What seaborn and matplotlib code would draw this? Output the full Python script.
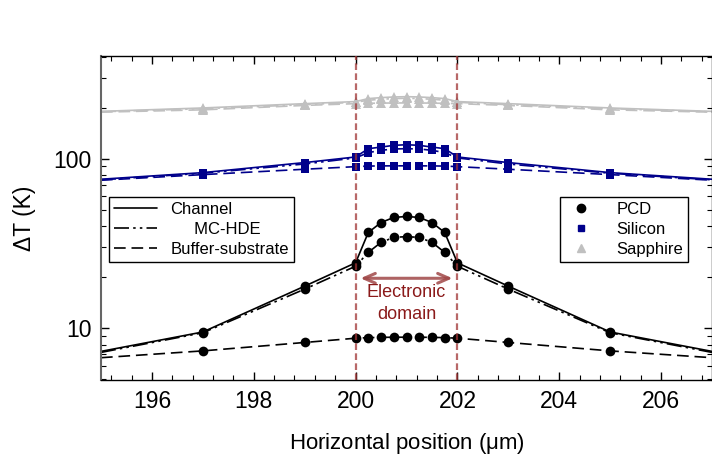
import numpy as np
import pandas as pd
import matplotlib
matplotlib.use("Agg")
import matplotlib.pyplot as plt
from matplotlib.lines import Line2D
from matplotlib.ticker import MultipleLocator, LogLocator, NullFormatter
import seaborn as sns

# horizontal positions (um)
x_pos = [195, 197, 199, 200, 200.25, 200.5, 200.75, 201, 201.25, 201.5, 201.75, 202, 203, 205, 207]

# PCD
pcd_channel = [7.3, 9.5, 17.7, 24.3, 36.7, 42.0, 45.0, 45.6, 45.0, 42.0, 36.7, 24.3, 17.7, 9.5, 7.3]
pcd_mchde = [7.2, 9.4, 17.0, 23.2, 28.0, 32.1, 34.3, 34.7, 34.3, 32.1, 28.0, 23.2, 17.0, 9.4, 7.2]
pcd_buffer = [6.7, 7.35, 8.24, 8.73, 8.8, 8.83, 8.85, 8.85, 8.85, 8.83, 8.8, 8.73, 8.24, 7.35, 6.7]

# Silicon
si_channel = [75.6, 82.7, 94.8, 102.3, 114.5, 117.0, 119.8, 120.8, 119.8, 117.0, 114.5, 102.3, 94.8, 82.7, 75.6]
si_mchde = [75.0, 82.0, 93.0, 101.0, 108.5, 112.0, 114.0, 114.5, 114.0, 112.0, 108.5, 101.0, 93.0, 82.0, 75.0]
si_buffer = [74.6, 80.5, 86.6, 89.7, 90.4, 90.6, 90.7, 90.7, 90.7, 90.6, 90.4, 89.7, 86.6, 80.5, 74.6]

# Sapphire
sa_channel = [190, 199, 211, 217, 226, 229, 231, 232, 231, 229, 226, 217, 211, 199, 190]
sa_mchde = [189, 197, 208, 215, 221, 224, 226, 227, 226, 224, 221, 215, 208, 197, 189]
sa_buffer = [188, 194, 206, 211, 212, 212.5, 213, 213, 213, 212.5, 212, 211, 206, 194, 188]

domain_edges = [200, 202]
arrow_y = 19.7
label_y = 14.0

substrates = ["PCD", "Silicon", "Sapphire"]
colors = {"PCD": "black", "Silicon": "#00008b", "Sapphire": "#c0c0c0"}
markers = {"PCD": "o", "Silicon": "s", "Sapphire": "^"}
msizes = {"PCD": 7, "Silicon": 6, "Sapphire": 7}
models = ["Channel", "MC-HDE", "Buffer-substrate"]
model_labels = ["Channel", "     MC-HDE", "Buffer-substrate"]
styles = {"Channel": "-", "MC-HDE": (0, (9, 2.5, 1.5, 2.5, 1.5, 2.5)), "Buffer-substrate": (0, (7, 3.5))}

series = {
    ("PCD", "Channel"): pcd_channel, ("PCD", "MC-HDE"): pcd_mchde, ("PCD", "Buffer-substrate"): pcd_buffer,
    ("Silicon", "Channel"): si_channel, ("Silicon", "MC-HDE"): si_mchde, ("Silicon", "Buffer-substrate"): si_buffer,
    ("Sapphire", "Channel"): sa_channel, ("Sapphire", "MC-HDE"): sa_mchde, ("Sapphire", "Buffer-substrate"): sa_buffer,
}

sns.set_style("ticks")
plt.rcParams['font.family'] = ['Liberation Sans', 'DejaVu Sans']
plt.rcParams['mathtext.default'] = 'regular'
for k in ['text.color', 'axes.labelcolor', 'xtick.color', 'ytick.color']:
    plt.rcParams[k] = 'black'

fig = plt.figure(figsize=(7.12, 4.63), dpi=100)
ax = fig.add_axes([101/712, 1-380/463, 1-101/712, (380-56)/463])

for sub in ["Sapphire", "Silicon", "PCD"]:
    for m in models:
        df = pd.DataFrame({"x": x_pos, "y": series[(sub, m)]})
        sns.lineplot(data=df, x="x", y="y", ax=ax, color=colors[sub], linestyle=styles[m],
                     lw=1.2, marker=markers[sub], markersize=msizes[sub], markeredgewidth=0,
                     markevery=list(range(1, len(x_pos)-1)), errorbar=None, legend=False)

for xe in domain_edges:
    ax.axvline(xe, color="#a03535", lw=1.6, linestyle=(0, (3, 1.5)), alpha=0.75, zorder=5)

ax.annotate("", xy=(domain_edges[0]+0.04, arrow_y), xytext=(domain_edges[1]-0.04, arrow_y),
            arrowprops=dict(arrowstyle="<->,head_length=0.8,head_width=0.35", color="#a04848",
                            lw=2.2, alpha=0.85))
ax.text(np.mean(domain_edges), label_y, "Electronic\ndomain", ha="center", va="center",
        fontsize=13, color="#8b1a1a", linespacing=1.35)

ax.set_yscale("log")
ax.set_xlim(195, 207)
ax.set_ylim(4.95, 403)
ax.xaxis.set_major_locator(MultipleLocator(2))
ax.xaxis.set_minor_locator(MultipleLocator(0.4))
ax.yaxis.set_major_locator(LogLocator(base=10))
ax.yaxis.set_minor_locator(LogLocator(base=10, subs=np.arange(2, 10)))
ax.yaxis.set_minor_formatter(NullFormatter())
ax.set_yticks([10, 100])
ax.set_yticklabels(["10", "100"])
ax.tick_params(which="both", direction="in", top=True, right=True, labelsize=16.5, pad=7)
ax.tick_params(which="major", length=6, width=1)
ax.tick_params(which="minor", length=3.5, width=0.8)

for s in ax.spines.values():
    s.set_color("black")
    s.set_linewidth(1)
ax.spines["left"].set_color("#666666")
ax.spines["left"].set_linewidth(1.5)

ax.set_xlabel("Horizontal position ($\\mu$m)", fontsize=16, labelpad=13)
ax.set_ylabel("ΔT (K)", fontsize=16.5, labelpad=12)

line_handles = [Line2D([], [], color="black", lw=1.2, linestyle=styles[m]) for m in models]
leg1 = ax.legend(line_handles, model_labels, loc="upper left", bbox_to_anchor=(0.013, 0.566),
                 fontsize=12, frameon=True, fancybox=False, framealpha=1, edgecolor="black",
                 handlelength=2.6, borderpad=0.3, labelspacing=0.3, borderaxespad=0)
leg1.get_frame().set_linewidth(1)
ax.add_artist(leg1)

marker_handles = [Line2D([], [], color=colors[s], marker=markers[s], linestyle="none",
                         markersize={"PCD": 6, "Silicon": 4.5, "Sapphire": 5.5}[s]) for s in substrates]
leg2 = ax.legend(marker_handles, substrates, loc="upper right", bbox_to_anchor=(0.961, 0.566),
                 fontsize=12, frameon=True, fancybox=False, framealpha=1, edgecolor="black",
                 borderpad=0.3, labelspacing=0.3, borderaxespad=0, handlelength=2.0, handletextpad=1.1)
leg2.get_frame().set_linewidth(1)

fig.savefig("out.png", dpi=100)
